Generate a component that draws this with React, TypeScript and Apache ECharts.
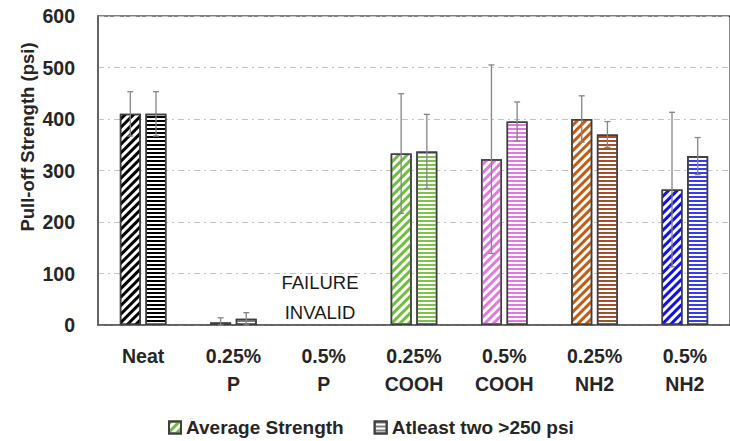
import React, { useEffect, useRef } from 'react';
import * as echarts from 'echarts';

const categories = ['Neat', '0.25%\nP', '0.5%\nP', '0.25%\nCOOH', '0.5%\nCOOH', '0.25%\nNH2', '0.5%\nNH2'];
const avgValues: (number | null)[] = [410, 5, null, 333, 322, 400, 263];
const avgErrors: (number | null)[] = [43, 9, null, 116, 183, 45, 150];
const atleastValues: (number | null)[] = [410, 12, null, 337, 395, 370, 328];
const atleastErrors: (number | null)[] = [43, 12, null, 72, 38, 25, 36];
const avgColors = ['#000000', '#5a9a30', '#000000', '#6fbf3c', '#e07ae0', '#c55a11', '#1010ee'];
const atleastColors = ['#000000', '#7f7f7f', '#000000', '#7cc24c', '#e07ae0', '#a0522d', '#3a3af0'];
const seriesNames = ['Average Strength', 'Atleast two >250 psi'];
const annotation = 'FAILURE\nINVALID';

const FONT = 'Liberation Sans, Arial, sans-serif';
const BAR_W = 21;
const OFFSET = 12.85;

const diag = (c: string) => ({
  symbol: 'rect',
  symbolSize: 1,
  color: c,
  backgroundColor: '#ffffff',
  dashArrayX: [1, 0],
  dashArrayY: [2.2, 2.4],
  rotation: -Math.PI / 4,
});
const horiz = (c: string) => ({
  symbol: 'rect',
  symbolSize: 1,
  color: c,
  backgroundColor: '#ffffff',
  dashArrayX: [1, 0],
  dashArrayY: [1.5, 1.6],
  rotation: 0,
});

export default function App() {
  const ref = useRef<HTMLDivElement>(null);
  useEffect(() => {
    if (!ref.current) return;
    const chart = echarts.init(ref.current, undefined, { renderer: 'svg' });
    const border = { borderColor: '#3f3f3f', borderWidth: 1.5 };
    const avgData = avgValues.map((v, i) =>
      v == null ? '-' : { value: v, itemStyle: { color: '#ffffff', decal: diag(avgColors[i]), ...border } }
    );
    const atData = atleastValues.map((v, i) =>
      v == null ? '-' : { value: v, itemStyle: { color: '#ffffff', decal: horiz(atleastColors[i]), ...border } }
    );
    const errData: number[][] = [];
    avgValues.forEach((v, i) => {
      if (v != null && avgErrors[i] != null) errData.push([i, v, avgErrors[i] as number, -1]);
    });
    atleastValues.forEach((v, i) => {
      if (v != null && atleastErrors[i] != null) errData.push([i, v, atleastErrors[i] as number, 1]);
    });
    const errStyle = { stroke: '#858585', lineWidth: 1.3 };
    chart.setOption({
      animation: false,
      backgroundColor: '#ffffff',
      grid: {
        left: 98,
        right: -7,
        top: 16,
        bottom: 116,
        show: true,
        borderColor: '#595959',
        borderWidth: 1.5,
      },
      legend: {
        data: seriesNames,
        left: 163,
        top: 413,
        itemWidth: 12,
        itemHeight: 12,
        itemGap: 30,
        icon: 'rect',
        textStyle: { fontFamily: FONT, fontWeight: 'bold', fontSize: 19, color: '#262626' },
      },
      xAxis: {
        type: 'category',
        data: categories,
        axisLine: { show: true, lineStyle: { color: '#595959', width: 1.5 } },
        axisTick: { show: false },
        axisLabel: {
          fontFamily: FONT,
          fontWeight: 'bold',
          fontSize: 19.5,
          color: '#262626',
          lineHeight: 28,
          margin: 17,
          interval: 0,
        },
      },
      yAxis: {
        type: 'value',
        min: 0,
        max: 600,
        interval: 100,
        axisLine: { show: true, lineStyle: { color: '#595959', width: 1.5 } },
        axisTick: { show: false },
        axisLabel: {
          fontFamily: FONT,
          fontWeight: 'bold',
          fontSize: 19.5,
          color: '#262626',
          margin: 23,
        },
        splitLine: { show: true, lineStyle: { color: '#c4c4c4', width: 1, type: [6, 4, 2, 4] } },
      },
      graphic: [
        {
          type: 'text',
          x: 27,
          y: 137,
          rotation: Math.PI / 2,
          style: {
            text: 'Pull-off Strength (psi)',
            fontFamily: FONT,
            fontWeight: 'bold',
            fontSize: 18.5,
            fill: '#262626',
            textAlign: 'center',
            textVerticalAlign: 'middle',
          },
        },
        {
          type: 'text',
          x: 320,
          y: 297,
          style: {
            text: annotation,
            fontFamily: FONT,
            fontSize: 18.5,
            lineHeight: 30,
            fill: '#1a1a1a',
            textAlign: 'center',
            textVerticalAlign: 'middle',
          },
        },
      ],
      series: [
        {
          name: seriesNames[0],
          type: 'bar',
          barWidth: BAR_W,
          barGap: '22%',
          itemStyle: { color: '#ffffff', decal: diag('#6fbf3c'), ...border },
          data: avgData,
        },
        {
          name: seriesNames[1],
          type: 'bar',
          barWidth: BAR_W,
          barGap: '22%',
          itemStyle: { color: '#ffffff', decal: horiz('#7f7f7f'), ...border },
          data: atData,
        },
        {
          type: 'custom',
          z: 10,
          silent: true,
          encode: { x: 0, y: 1 },
          data: errData,
          renderItem: (_params: any, api: any) => {
            const idx = api.value(0);
            const v = api.value(1);
            const e = api.value(2);
            const side = api.value(3);
            const top = api.coord([idx, v + e]);
            const bot = api.coord([idx, Math.max(0, v - e)]);
            const x = top[0] + side * OFFSET;
            const cap = 3;
            return {
              type: 'group',
              children: [
                { type: 'line', shape: { x1: x, y1: top[1], x2: x, y2: bot[1] }, style: errStyle },
                { type: 'line', shape: { x1: x - cap, y1: top[1], x2: x + cap, y2: top[1] }, style: errStyle },
                { type: 'line', shape: { x1: x - cap, y1: bot[1], x2: x + cap, y2: bot[1] }, style: errStyle },
              ],
            };
          },
        },
      ],
    });
    return () => chart.dispose();
  }, []);
  return <div ref={ref} style={{ position: 'absolute', left: 0, top: 0, width: 730, height: 441 }} />;
}
